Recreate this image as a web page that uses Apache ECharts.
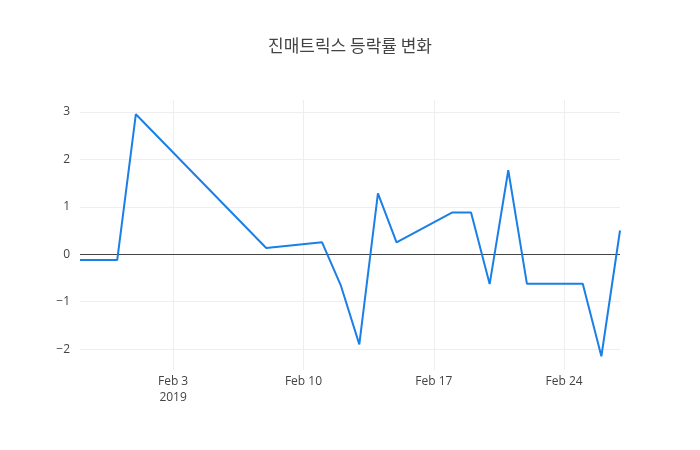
<!doctype html>
<html>
<head>
<meta charset="utf-8" />
<script src="https://cdn.jsdelivr.net/npm/echarts@6/dist/echarts.min.js"></script>
<style>
  body { margin: 0; background: #fff; }
  #chart { width: 700px; height: 450px; }
</style>
</head>
<body>
<div id="chart"></div>
<script>
const dates = [
  "2019-01-29", "2019-01-31", "2019-02-01", "2019-02-08", "2019-02-11",
  "2019-02-12", "2019-02-13", "2019-02-14", "2019-02-15", "2019-02-18",
  "2019-02-19", "2019-02-20", "2019-02-21", "2019-02-22", "2019-02-25",
  "2019-02-26", "2019-02-27"
];
const changes = [
  -0.12, -0.12, 2.95, 0.13, 0.25,
  -0.65, -1.9, 1.28, 0.25, 0.88,
  0.88, -0.63, 1.77, -0.62, -0.62,
  -2.15, 0.5
];
const tickDays = [0, 7, 14, 21];
const tickLabels = ["Feb 3\n2019", "Feb 10", "Feb 17", "Feb 24"];

// x is days from Feb 3 2019
const base = Date.UTC(2019, 1, 3);
const dayOf = d => (Date.parse(d + "T00:00:00Z") - base) / 86400000;
const points = dates.map((d, i) => [dayOf(d), changes[i]]);

const chart = echarts.init(document.getElementById("chart"), null, { renderer: "canvas" });
chart.setOption({
  animation: false,
  backgroundColor: "#ffffff",
  title: {
    text: "진매트릭스 등락률 변화",
    left: "center",
    top: 32,
    textStyle: { fontFamily: "Noto Sans CJK KR", fontSize: 17, fontWeight: "normal", color: "#444" }
  },
  grid: { left: 80, right: 80, top: 100, bottom: 80 },
  xAxis: {
    type: "value",
    min: dayOf(dates[0]),
    max: dayOf(dates[dates.length - 1]),
    axisLine: { show: false },
    axisTick: { show: false, customValues: tickDays },
    splitLine: { show: false },
    axisLabel: {
      customValues: tickDays,
      margin: 4,
      lineHeight: 16,
      color: "#444",
      fontFamily: "Open Sans",
      fontSize: 12,
      formatter: v => tickLabels[tickDays.indexOf(v)] || ""
    }
  },
  yAxis: {
    type: "value",
    min: -2.44,
    max: 3.25,
    interval: 1,
    axisLine: { show: false },
    axisTick: { show: false },
    splitLine: { show: false },
    axisLabel: {
      customValues: [-2, -1, 0, 1, 2, 3],
      color: "#444",
      fontFamily: "Open Sans",
      fontSize: 12,
      margin: 10,
      formatter: v => String(v).replace("-", "\u2212")
    }
  },
  series: [
    {
      type: "line",
      data: [],
      z: 1,
      silent: true,
      markLine: {
        silent: true,
        symbol: "none",
        label: { show: false },
        animation: false,
        data: [
          ...[-2, -1, 1, 2, 3].map(v => ({ yAxis: v, lineStyle: { color: "#eee", width: 1, type: "solid" } })),
          ...tickDays.map(v => ({ xAxis: v, lineStyle: { color: "#eee", width: 1, type: "solid" } })),
          { yAxis: 0, lineStyle: { color: "#444", width: 1, type: "solid" } }
        ]
      }
    },
    {
      type: "line",
      data: points,
      showSymbol: false,
      lineStyle: { color: "#1a7fe6", width: 2 },
      z: 5
    }
  ]
});
</script>
</body>
</html>
